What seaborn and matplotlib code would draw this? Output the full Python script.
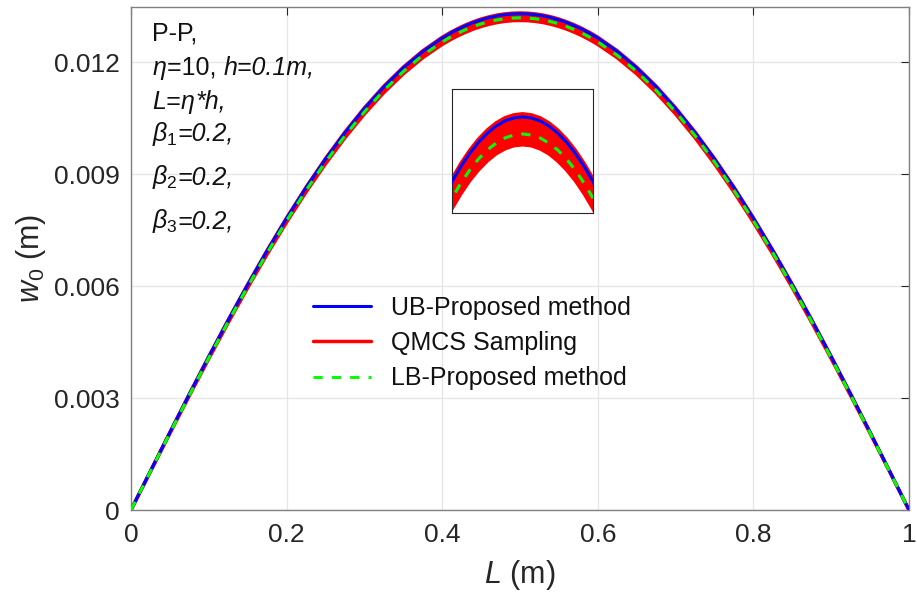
import numpy as np
import pandas as pd
import matplotlib
matplotlib.use("Agg")
import matplotlib.pyplot as plt
from matplotlib.transforms import IdentityTransform
import seaborn as sns

# ---------------- data ----------------
x_pos = [0.000, 0.025, 0.050, 0.075, 0.100, 0.125, 0.150, 0.175, 0.200, 0.225,
         0.250, 0.275, 0.300, 0.325, 0.350, 0.375,
         0.40, 0.41, 0.42, 0.43, 0.44, 0.45, 0.46, 0.47, 0.48, 0.49, 0.50,
         0.51, 0.52, 0.53, 0.54, 0.55, 0.56, 0.57, 0.58, 0.59, 0.60,
         0.625, 0.650, 0.675, 0.700, 0.725, 0.750, 0.775, 0.800, 0.825, 0.850,
         0.875, 0.900, 0.925, 0.950, 0.975, 1.000]

ub_w = [0, 0.001044, 0.002081, 0.003105, 0.004110, 0.005090, 0.006038, 0.006949,
        0.007818, 0.008638, 0.009405, 0.010113, 0.010760, 0.011340, 0.011850, 0.012288,
        0.012649, 0.012772, 0.012882, 0.012980, 0.013064, 0.013136, 0.013195, 0.013241,
        0.013274, 0.013293, 0.013300, 0.013293, 0.013274, 0.013241, 0.013195, 0.013136,
        0.013064, 0.012980, 0.012882, 0.012772, 0.012649,
        0.012288, 0.011850, 0.011340, 0.010760, 0.010113, 0.009405, 0.008638, 0.007818,
        0.006949, 0.006038, 0.005090, 0.004110, 0.003105, 0.002081, 0.001044, 0]

lb_w = [0, 0.001035, 0.002063, 0.003079, 0.004076, 0.005048, 0.005988, 0.006892,
        0.007753, 0.008566, 0.009327, 0.010030, 0.010671, 0.011246, 0.011752, 0.012186,
        0.012544, 0.012666, 0.012776, 0.012872, 0.012956, 0.013028, 0.013086, 0.013131,
        0.013164, 0.013183, 0.013190, 0.013183, 0.013164, 0.013131, 0.013086, 0.013028,
        0.012956, 0.012872, 0.012776, 0.012666, 0.012544,
        0.012186, 0.011752, 0.011246, 0.010671, 0.010030, 0.009327, 0.008566, 0.007753,
        0.006892, 0.005988, 0.005048, 0.004076, 0.003079, 0.002063, 0.001035, 0]

qmcs_hi = [0, 0.001045, 0.002084, 0.003110, 0.004116, 0.005097, 0.006047, 0.006960,
           0.007829, 0.008651, 0.009419, 0.010129, 0.010776, 0.011357, 0.011868, 0.012306,
           0.012668, 0.012791, 0.012901, 0.012999, 0.013084, 0.013156, 0.013215, 0.013261,
           0.013294, 0.013313, 0.013320, 0.013313, 0.013294, 0.013261, 0.013215, 0.013156,
           0.013084, 0.012999, 0.012901, 0.012791, 0.012668,
           0.012306, 0.011868, 0.011357, 0.010776, 0.010129, 0.009419, 0.008651, 0.007829,
           0.006960, 0.006047, 0.005097, 0.004116, 0.003110, 0.002084, 0.001045, 0]

qmcs_lo = [0, 0.001029, 0.002052, 0.003063, 0.004054, 0.005021, 0.005956, 0.006855,
           0.007712, 0.008521, 0.009277, 0.009977, 0.010614, 0.011187, 0.011690, 0.012121,
           0.012478, 0.012599, 0.012708, 0.012804, 0.012888, 0.012958, 0.013016, 0.013062,
           0.013094, 0.013114, 0.013120, 0.013114, 0.013094, 0.013062, 0.013016, 0.012958,
           0.012888, 0.012804, 0.012708, 0.012599, 0.012478,
           0.012121, 0.011690, 0.011187, 0.010614, 0.009977, 0.009277, 0.008521, 0.007712,
           0.006855, 0.005956, 0.005021, 0.004054, 0.003063, 0.002052, 0.001029, 0]

x_ticks = [0, 0.2, 0.4, 0.6, 0.8, 1.0]
x_tick_labels = ["0", "0.2", "0.4", "0.6", "0.8", "1"]
y_ticks = [0, 0.003, 0.006, 0.009, 0.012]
y_tick_labels = ["0", "0.003", "0.006", "0.009", "0.012"]

labels = ["UB-Proposed method", "QMCS Sampling", "LB-Proposed method"]

# ---------------- style ----------------
sns.set_theme(style="whitegrid")
plt.rcParams["font.family"] = ["Liberation Sans", "DejaVu Sans"]
plt.rcParams["mathtext.fontset"] = "custom"
plt.rcParams["mathtext.rm"] = "Liberation Sans"
plt.rcParams["mathtext.it"] = "Liberation Sans:italic"
plt.rcParams["mathtext.bf"] = "Liberation Sans:bold"

df = pd.DataFrame({"x": x_pos, "ub": ub_w, "lb": lb_w, "hi": qmcs_hi, "lo": qmcs_lo})

W, H = 917, 593
fig = plt.figure(figsize=(W / 100, H / 100), dpi=100)
ax = fig.add_axes([131 / W, 1 - 510 / H, (909 - 131) / W, (510 - 7) / H])
ax.set_facecolor("white")


def draw(a, legend=False):
    a.fill_between(df["x"], df["lo"], df["hi"], color="#ff0000", lw=0, zorder=2)
    sns.lineplot(data=df, x="x", y="hi", ax=a, color="#ff0000", lw=2.5,
                 zorder=2, label=labels[1] if legend else None)
    sns.lineplot(data=df, x="x", y="lo", ax=a, color="#ff0000", lw=2.5, zorder=2)
    sns.lineplot(data=df, x="x", y="ub", ax=a, color="#0000ff", lw=2.2,
                 zorder=3, label=labels[0] if legend else None)
    sns.lineplot(data=df, x="x", y="lb", ax=a, color="#00ff00", lw=2.2,
                 zorder=4, dashes=False, linestyle=(0, (3, 3)),
                 label=labels[2] if legend else None)


draw(ax, legend=True)

ax.set_xlim(0, 1)
ax.set_ylim(0, 0.01348)
ax.set_xticks(x_ticks)
ax.set_xticklabels(x_tick_labels)
ax.set_yticks(y_ticks)
ax.set_yticklabels(y_tick_labels)
ax.tick_params(axis="both", direction="in", length=6, width=0.8, colors="#262626",
               labelsize=19, top=True, right=True)
ax.tick_params(axis="x", pad=9)
ax.tick_params(axis="y", pad=8)
ax.grid(True, color="#e5e5e5", lw=0.9)
for s in ax.spines.values():
    s.set_color("#808080")
    s.set_linewidth(1.0)

ax.set_xlabel(r"$\mathit{L}$ (m)", fontsize=22, color="#262626", labelpad=8)
ax.set_ylabel(r"$\mathit{w}_{\mathit{0}}$ (m)", fontsize=22, color="#262626", labelpad=4)

# legend (order UB, QMCS, LB)
h, l = ax.get_legend_handles_labels()
order = [l.index(t) for t in labels]
leg = ax.legend([h[i] for i in order], [l[i] for i in order], loc="center",
                bbox_to_anchor=((472 - 131) / 778, 1 - (343 - 7) / 503),
                frameon=False, fontsize=18, handlelength=2.3, handletextpad=0.8,
                labelspacing=0.45)
for t in leg.get_texts():
    t.set_color("#111111")

# annotation text (mixed upright / italic pieces on one baseline)
renderer = fig.canvas.get_renderer()
FS = 18
ann_lines = [
    ([("P-P,", "normal")], 40),
    ([(r"$\eta$", "normal"), ("=10, ", "normal"), ("h=0.1m,", "italic")], 75),
    ([("L=", "italic"), (r"$\eta$", "normal"), ("*h,", "italic")], 109),
    ([(r"$\beta_{\mathit{1}}$", "normal"), ("=0.2,", "italic")], 141),
    ([(r"$\beta_{\mathit{2}}$", "normal"), ("=0.2,", "italic")], 184),
    ([(r"$\beta_{\mathit{3}}$", "normal"), ("=0.2,", "italic")], 228),
]
for pieces, base_px in ann_lines:
    xd = 152
    yd = H - base_px
    for s, st in pieces:
        t = fig.text(xd, yd, s, transform=IdentityTransform(), fontsize=FS,
                     style=st, color="#111111", va="baseline", ha="left")
        xd = t.get_window_extent(renderer).x1

# inset
axi = fig.add_axes([452 / W, 1 - 213 / H, (593 - 452) / W, (213 - 89) / H])
draw(axi)
axi.set_xlim(0.42, 0.58)
axi.set_ylim(0.01268, 0.01348)
axi.set_xticks([])
axi.set_yticks([])
axi.set_xlabel("")
axi.set_ylabel("")
axi.grid(False)
axi.set_facecolor("white")
for s in axi.spines.values():
    s.set_color("#262626")
    s.set_linewidth(0.8)

fig.savefig("out.png", dpi=100)
